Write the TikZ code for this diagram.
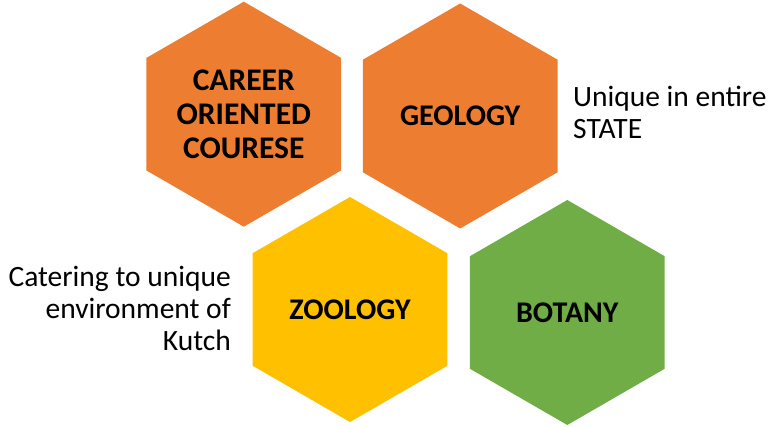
\documentclass[tikz,border=0pt]{standalone}
\usepackage{fontspec}
\setmainfont{Carlito}
\usetikzlibrary{shapes.geometric}
\definecolor{hexorange}{HTML}{ED7D31}
\definecolor{hexyellow}{HTML}{FFC000}
\definecolor{hexgreen}{HTML}{70AD47}
\tikzset{
  hexnode/.style={regular polygon, regular polygon sides=6, shape border rotate=30,
    minimum size=225pt, inner sep=0pt, outer sep=0pt, draw=none,
    font=\fontsize{30}{34}\selectfont\bfseries, align=center, text=black},
  sidetext/.style={inner sep=0pt, font=\fontsize{29.5}{32}\selectfont, text=black}
}
\begin{document}
\begin{tikzpicture}[x=1pt,y=1pt]
\useasboundingbox (0,0) rectangle (770,427);
\node[hexnode, fill=hexorange, font=\fontsize{31.5}{34.2}\selectfont\bfseries] (career) at (243.8,312.8) {CAREER\\ORIENTED\\COURESE};
\node[hexnode, fill=hexorange] (geology) at (460.2,311) {GEOLOGY};
\node[hexnode, fill=hexyellow] (zoology) at (350,117.5) {ZOOLOGY};
\node[hexnode, fill=hexgreen] (botany) at (567.3,114.5) {BOTANY};
\node[sidetext, anchor=base west, align=left] (unique) at (573,288.7) {Unique in entire\\STATE};
\node[sidetext, anchor=base east, align=right] (catering) at (231,76.3) {Catering to unique\\environment of\\Kutch};
\end{tikzpicture}
\end{document}
